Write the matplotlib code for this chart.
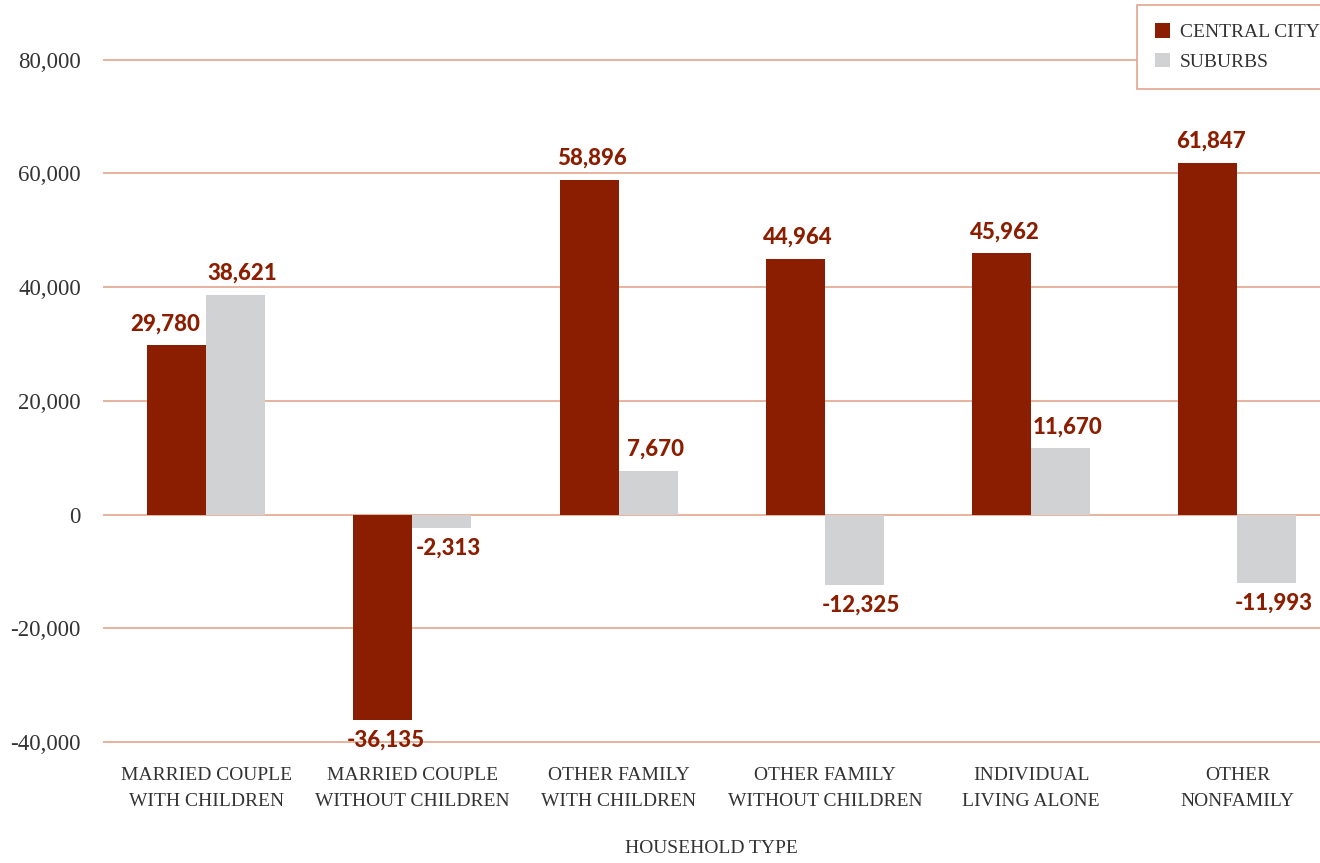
import matplotlib.pyplot as plt
import numpy as np

# household types and net change values
categories = ['Married Couple\nwith Children', 'Married Couple\nwithout Children',
              'Other Family\nwith Children', 'Other Family\nwithout Children',
              'Individual\nLiving Alone', 'Other\nNonfamily']
central_city = [29780, -36135, 58896, 44964, 45962, 61847]
suburbs = [38621, -2313, 7670, -12325, 11670, -11993]
y_ticks = [-40000, -20000, 0, 20000, 40000, 60000, 80000]

red = '#8b1e00'
gray = '#d1d2d4'
grid_c = '#e3a68e'
text_c = '#333333'
serif = 'Liberation Serif'

fig = plt.figure(figsize=(13.2, 8.63), dpi=100)
# axes from top edge down to a little below the -40,000 line
ax = fig.add_axes([103 / 1320, (863 - 745) / 863, 1 - 103 / 1320, 745 / 863])

x = np.arange(len(categories))
w = 0.286
ax.bar(x - w / 2, central_city, w, color=red, label='Central City', zorder=3)
ax.bar(x + w / 2, suburbs, w, color=gray, label='Suburbs', zorder=3)

# value labels
for xs, vals, dx in [(x - w / 2, central_city, 2), (x + w / 2, suburbs, 5)]:
    for i, (xi, v) in enumerate(zip(xs, vals)):
        # first red label sits a bit left so it doesn't run into its neighbour
        shift = -8 if (i == 0 and dx == 2) else dx
        off = (shift, 8) if v >= 0 else (shift, -7)
        ax.annotate(f'{v:,}', (xi, v), xytext=off, textcoords='offset points',
                    ha='center', va='bottom' if v >= 0 else 'top', color=red,
                    fontsize=16, fontweight='black', family='Lato')

ax.set_xlim(-0.5, 5.4)
ax.set_ylim(-40500, 90500)
ax.set_yticks(y_ticks)
ax.set_yticklabels([f'{t:,}' for t in y_ticks], family=serif, fontsize=16.5, color=text_c)
ax.set_xticks(x)
ax.set_xticklabels([c.upper() for c in categories], family=serif, fontsize=14,
                   color=text_c, linespacing=1.65)
ax.tick_params(axis='both', length=0)
ax.tick_params(axis='y', pad=16)
ax.tick_params(axis='x', pad=16)
ax.grid(axis='y', color=grid_c, linewidth=1.2, zorder=0)
for s in ax.spines.values():
    s.set_visible(False)

ax.set_xlabel('HOUSEHOLD TYPE', family=serif, fontsize=14, color=text_c, labelpad=22)

leg = fig.legend(loc='upper left', bbox_to_anchor=(1137 / 1320, 1 - 5 / 863),
                 prop={'family': serif, 'size': 14}, frameon=True, fancybox=False,
                 framealpha=1, handlelength=0.75, handleheight=0.75, handletextpad=0.5,
                 borderpad=0.95, labelspacing=0.6, borderaxespad=0,
                 labelcolor=text_c)
leg.get_frame().set_edgecolor(grid_c)
leg.get_frame().set_linewidth(1.2)
for t in leg.get_texts():
    t.set_text(t.get_text().upper())

plt.savefig('out.png', dpi=100)
